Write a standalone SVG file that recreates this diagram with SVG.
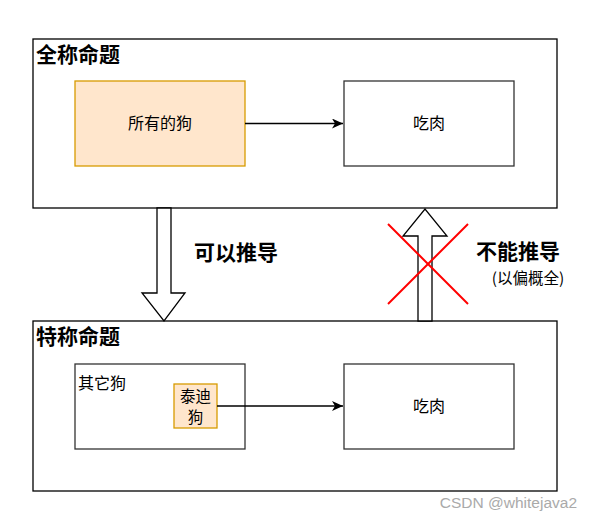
<svg xmlns="http://www.w3.org/2000/svg" width="589" height="518" viewBox="0 0 589 518">
<style>
text{font-family:"Noto Sans CJK SC","Liberation Sans",sans-serif;fill:#000}
.box{fill:#fff;stroke:#000;stroke-width:1.3}
.inner{fill:#fff;stroke:#333;stroke-width:1.3}
.orange{fill:#ffe6cc;stroke:#d79b00;stroke-width:1.3}
.title{font-size:21px;font-weight:bold}
.lbl{font-size:16px}
.conn{stroke:#000;stroke-width:1.3;fill:none}
.block{fill:#fff;stroke:#000;stroke-width:1.3}
.cross{stroke:#ff0000;stroke-width:2}
</style>
<defs>
<marker id="arr" markerWidth="12" markerHeight="10" refX="11" refY="5" orient="auto" markerUnits="userSpaceOnUse">
<path d="M0,0 L11,5 L0,10 L3,5 Z" fill="#000"/>
</marker>
</defs>
<rect width="589" height="518" fill="#fff"/>
<g id="universal">
<rect class="box" x="33" y="39" width="524" height="169"/>
<text class="title" x="36" y="62">全称命题</text>
</g>
<g id="allDogs">
<rect class="orange" x="75" y="81" width="170" height="85"/>
<text class="lbl" x="160" y="129" text-anchor="middle">所有的狗</text>
</g>
<g id="eatMeat1">
<rect class="inner" x="344" y="81" width="170" height="85"/>
<text class="lbl" x="429" y="129" text-anchor="middle">吃肉</text>
</g>
<g id="particular">
<rect class="box" x="33" y="321" width="524" height="170"/>
<text class="title" x="36" y="344">特称命题</text>
</g>
<g id="otherDogs">
<rect class="inner" x="75" y="364" width="170" height="85"/>
<text class="lbl" x="78" y="389">其它狗</text>
</g>
<g id="teddy">
<rect class="orange" x="174" y="384" width="43" height="44"/>
<text class="lbl" x="195.5" y="402" text-anchor="middle" style="font-size:15.5px">泰迪</text>
<text class="lbl" x="195.5" y="423" text-anchor="middle" style="font-size:15.5px">狗</text>
</g>
<g id="eatMeat2">
<rect class="inner" x="344" y="364" width="170" height="85"/>
<text class="lbl" x="429" y="412" text-anchor="middle">吃肉</text>
</g>
<g id="connectors">
<line class="conn" x1="245" y1="123.5" x2="343" y2="123.5" marker-end="url(#arr)"/>
<line class="conn" x1="217" y1="406" x2="343" y2="406" marker-end="url(#arr)"/>
<polygon class="block" points="157,208 171,208 171,293 185,293 164,321 142,293 157,293"/>
<polygon class="block" points="418,321 432,321 432,236 447,236 425,209 403,236 418,236"/>
</g>
<g id="labels">
<text class="title" x="194" y="260">可以推导</text>
<text class="title" x="476" y="259">不能推导</text>
<text class="lbl" x="528" y="284" text-anchor="middle" style="font-size:15.5px">(以偏概全)</text>
</g>
<g id="cross">
<line class="cross" x1="388" y1="224" x2="468" y2="304"/>
<line class="cross" x1="468" y1="224" x2="388" y2="304"/>
</g>
<text x="577" y="508" text-anchor="end" style="font-family:'Liberation Sans',sans-serif;font-size:15.5px;fill:#aaa">CSDN @whitejava2</text>
</svg>
